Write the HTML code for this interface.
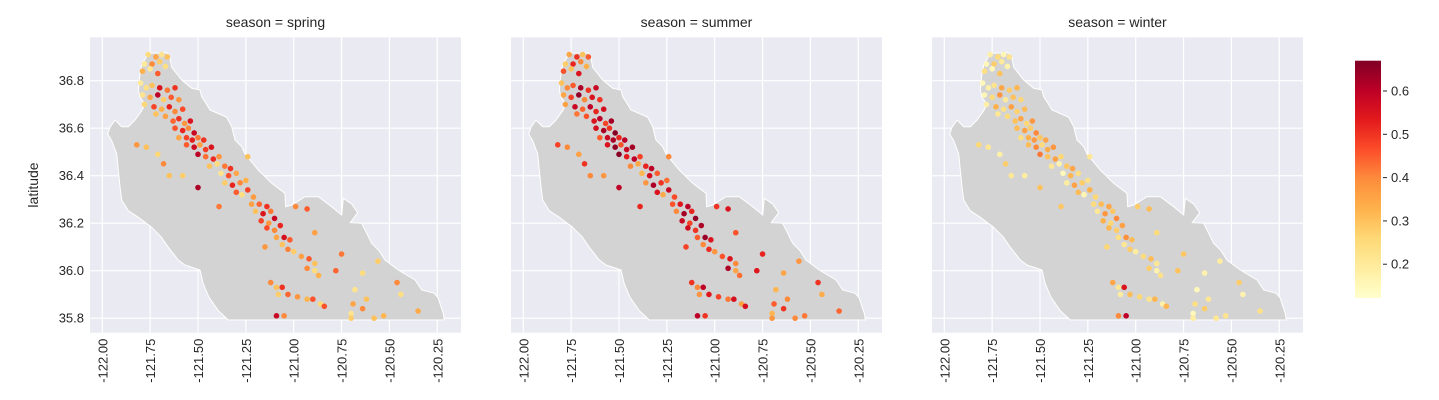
<!DOCTYPE html>
<html><head><meta charset="utf-8"><style>
body{margin:0;background:#fff;}
svg{display:block;font-family:"Liberation Sans",sans-serif;}
</style></head><body>
<svg id="chart" width="1439" height="400" viewBox="0 0 1439 400"></svg>
<script>
const seasons = ["spring","summer","winter"];
const lons = [-121.76,-121.72,-121.69,-121.66,-121.78,-121.74,-121.70,-121.67,-121.79,-121.75,-121.71,
-121.80,-121.77,-121.74,-121.70,-121.66,-121.62,-121.79,-121.75,-121.71,-121.68,-121.64,-121.60,-121.78,-121.73,-121.69,-121.65,-121.62,-121.58,-121.72,-121.67,
-121.63,-121.60,-121.57,-121.54,-121.62,-121.58,-121.55,-121.52,-121.60,-121.56,-121.53,-121.50,-121.47,-121.56,-121.52,-121.49,-121.46,-121.43,-121.50,-121.46,-121.42,-121.39,
-121.44,-121.40,-121.36,-121.33,-121.38,-121.34,-121.30,-121.36,-121.32,-121.28,-121.25,-121.30,-121.27,-121.24,-121.21,
-121.22,-121.18,-121.14,-121.20,-121.16,-121.12,-121.17,-121.13,-121.10,-121.14,-121.10,-121.07,-121.09,-121.05,-121.02,-121.06,-121.03,
-121.00,-120.96,-120.92,-120.89,-120.93,-120.89,-120.87,
-121.12,-121.09,-121.06,-121.08,-121.03,-120.98,-120.93,-120.90,-120.86,
-121.82,-121.77,-121.71,-121.68,-121.65,-121.58,-121.50,-121.39,-121.24,-120.99,-120.93,-120.89,-121.15,-120.75,-120.78,-120.64,-120.56,-120.68,-120.62,-120.69,-120.64,-120.70,-120.70,-120.58,-120.53,-120.46,-120.44,-120.35,-121.09,-121.05,-120.84];
const lats = [36.91,36.90,36.91,36.90,36.87,36.87,36.88,36.86,36.84,36.85,36.83,
36.79,36.77,36.78,36.77,36.76,36.77,36.74,36.73,36.74,36.72,36.73,36.72,36.70,36.69,36.68,36.69,36.67,36.68,36.66,36.65,
36.63,36.64,36.62,36.63,36.60,36.59,36.60,36.58,36.56,36.56,36.55,36.56,36.55,36.53,36.52,36.53,36.51,36.52,36.49,36.48,36.47,36.48,
36.44,36.45,36.44,36.43,36.41,36.40,36.41,36.37,36.36,36.37,36.38,36.33,36.32,36.34,36.31,
36.28,36.28,36.27,36.25,36.24,36.25,36.21,36.20,36.22,36.18,36.17,36.19,36.14,36.14,36.13,36.11,36.09,
36.08,36.06,36.05,36.03,36.01,36.00,35.98,
35.95,35.93,35.93,35.90,35.90,35.89,35.88,35.88,35.86,
36.53,36.52,36.49,36.45,36.40,36.40,36.35,36.27,36.48,36.27,36.26,36.16,36.10,36.07,36.00,35.99,36.04,35.92,35.88,35.86,35.84,35.82,35.80,35.80,35.81,35.95,35.90,35.83,35.81,35.81,35.85];
const springVals = [.25,.35,.22,.30,.20,.40,.28,.24,.33,.21,.45,
.20,.24,.30,.55,.42,.50,.22,.35,.60,.28,.45,.38,.26,.48,.33,.52,.40,.47,.30,.36,
.44,.50,.38,.55,.46,.52,.40,.58,.35,.48,.53,.42,.50,.45,.57,.36,.49,.55,.60,.43,.51,.38,
.30,.25,.42,.50,.22,.46,.35,.28,.52,.40,.33,.45,.24,.48,.37,
.36,.44,.50,.30,.55,.42,.48,.38,.58,.47,.40,.52,.35,.56,.45,.30,.41,
.28,.36,.45,.30,.40,.25,.33,
.40,.30,.50,.28,.44,.38,.32,.46,.26,
.38,.30,.26,.40,.30,.28,.62,.42,.30,.40,.45,.36,.38,.42,.44,.25,.28,.22,.30,.35,.40,.22,.28,.30,.32,.40,.24,.34,.58,.40,.46];
const summerVals = [.35,.50,.30,.45,.28,.52,.40,.33,.46,.30,.55,
.30,.40,.45,.62,.50,.58,.35,.48,.65,.40,.55,.50,.36,.58,.44,.60,.52,.56,.42,.46,
.55,.60,.48,.63,.56,.62,.50,.66,.45,.58,.62,.52,.60,.55,.65,.46,.58,.63,.66,.53,.60,.48,
.40,.35,.52,.60,.32,.56,.45,.38,.62,.50,.43,.55,.34,.58,.47,
.46,.54,.60,.40,.63,.52,.58,.48,.65,.57,.50,.62,.45,.64,.55,.40,.51,
.38,.46,.55,.40,.62,.35,.43,
.50,.40,.60,.38,.54,.48,.42,.56,.36,
.48,.40,.36,.50,.40,.38,.60,.52,.40,.50,.55,.46,.48,.52,.54,.35,.38,.32,.40,.45,.50,.32,.38,.40,.42,.50,.34,.44,.60,.50,.56];
const winterVals = [.18,.25,.16,.22,.15,.28,.20,.17,.24,.15,.30,
.15,.18,.22,.35,.28,.32,.16,.25,.38,.20,.30,.26,.18,.33,.23,.36,.27,.31,.21,.25,
.30,.35,.26,.38,.31,.36,.28,.40,.24,.33,.37,.29,.35,.31,.40,.25,.34,.38,.42,.30,.36,.26,
.21,.17,.29,.35,.15,.32,.24,.19,.36,.28,.23,.31,.16,.33,.26,
.25,.31,.35,.21,.38,.29,.33,.26,.40,.32,.28,.36,.24,.39,.31,.21,.28,
.19,.25,.31,.21,.28,.17,.23,
.35,.21,.55,.19,.31,.26,.22,.32,.18,
.26,.21,.18,.28,.21,.19,.30,.29,.21,.28,.31,.25,.26,.29,.30,.17,.19,.15,.21,.24,.28,.15,.19,.21,.22,.28,.17,.23,.40,.60,.32];
const xTicks = [-122.00,-121.75,-121.50,-121.25,-121.00,-120.75,-120.50,-120.25];
const yTicks = [36.8,36.6,36.4,36.2,36.0,35.8];
const cbTicks = [0.2,0.3,0.4,0.5,0.6];
const vmin = 0.122, vmax = 0.67;

// map outline (pixel geometry relative to panel, not data)
const outline = [[190,70],[245,68],[255,85],[260,112],[290,150],[320,175],[345,180],[350,200],[360,215],[375,240],[410,255],[425,262],[440,290],[450,330],[470,350],[480,372],[520,420],[560,460],[600,490],[602,530],[620,525],[660,500],[700,500],[740,530],[770,555],[775,505],[800,522],[818,548],[796,578],[830,580],[860,640],[882,662],[900,690],[940,720],[990,750],[1010,780],[1048,790],[1060,805],[1068,830],[1075,850],[1078,870],[430,870],[400,842],[372,802],[355,762],[345,720],[300,705],[280,690],[250,652],[228,620],[198,590],[160,562],[130,542],[110,510],[105,470],[100,420],[95,372],[80,332],[68,312],[75,292],[90,270],[110,290],[130,290],[150,270],[170,242],[180,222],[165,202],[160,180],[165,130],[170,105]];

const svg = document.getElementById('chart');
const NS = 'http://www.w3.org/2000/svg';
function mk(tag, attrs, parent){const e=document.createElementNS(NS,tag);for(const k in attrs)e.setAttribute(k,attrs[k]);(parent||svg).appendChild(e);return e;}
const stops=[[0,'#ffffcc'],[.125,'#ffeda0'],[.25,'#fed976'],[.375,'#feb24c'],[.5,'#fd8d3c'],[.625,'#fc4e2a'],[.75,'#e31a1c'],[.875,'#bd0026'],[1,'#800026']];
function hex(h){return [1,3,5].map(i=>parseInt(h.substr(i,2),16));}
function cmap(v){let t=(v-vmin)/(vmax-vmin);t=Math.max(0,Math.min(1,t));for(let i=1;i<stops.length;i++){if(t<=stops[i][0]){const a=hex(stops[i-1][1]),b=hex(stops[i][1]);const f=(t-stops[i-1][0])/(stops[i][0]-stops[i-1][0]);return 'rgb('+a.map((c,j)=>Math.round(c+(b[j]-c)*f)).join(',')+')';}}return stops[8][1];}

const lefts=[90,511,932], plotTop=37.3, W=371, H=295.4;
const valsBy=[springVals,summerVals,winterVals];
function xScale(p,lon){return lefts[p]+12.3+(lon+122)*191.4;}
function yScale(lat){return 80.7+(36.8-lat)*237.5;}

seasons.forEach((s,p)=>{
  const g=mk('g',{});
  
  
  const bg=mk('rect',{x:lefts[p],y:plotTop,width:W,height:H,fill:'#eaeaf2'},g);
  
  
  xTicks.forEach(t=>{const x=xScale(p,t);const l=mk('line',{x1:x,x2:x,y1:plotTop,y2:plotTop+H,stroke:'#fff','stroke-width':1.2},g);
    
    const tx=mk('text',{x:0,y:0,transform:`translate(${x+5},${plotTop+H+6}) rotate(-90)`,'text-anchor':'end','font-size':13,fill:'#262626'},g);
    tx.textContent=t.toFixed(2);});
  yTicks.forEach(t=>{const y=yScale(t);const l=mk('line',{x1:lefts[p],x2:lefts[p]+W,y1:y,y2:y,stroke:'#fff','stroke-width':1.2},g);
    
    if(p===0){const tx=mk('text',{x:lefts[p]-6,y:y+4.5,'text-anchor':'end','font-size':13,fill:'#262626'},g);
      tx.textContent=t.toFixed(1);}});
  const pts=outline.map(([zx,zy])=>[(lefts[p]-5+zx/3).toFixed(1),(30+zy/3).toFixed(1)].join(',')).join(' ');
  const poly=mk('polygon',{points:pts,fill:'#d3d3d3',stroke:'#fff','stroke-width':1},g);
  
  
  const vals=valsBy[p];
  const n=Math.min(lons.length,lats.length,vals.length);
  for(let i=0;i<n;i++){
    const c=mk('circle',{cx:xScale(p,lons[i]),cy:yScale(lats[i]),r:2.8,fill:cmap(vals[i])},g);
    
    
  }
  const ti=mk('text',{x:lefts[p]+W/2,y:27,'text-anchor':'middle','font-size':14,fill:'#262626'},g);
  ti.textContent='season = '+s;
  
  
});
const yl=mk('text',{x:0,y:0,transform:'translate(38,185) rotate(-90)','text-anchor':'middle','font-size':14,fill:'#262626'});
yl.textContent='latitude';



// colorbar
const defs=mk('defs',{});
const lg=mk('linearGradient',{id:'cbg',x1:0,y1:1,x2:0,y2:0},defs);
stops.forEach(([o,c])=>mk('stop',{offset:o,'stop-color':c},lg));
const cbTop=60.7, cbBot=298, cbX=1355, cbW=26;
const cb=mk('rect',{x:cbX,y:cbTop,width:cbW,height:cbBot-cbTop,fill:'url(#cbg)'});


function cbY(v){return cbBot-(v-vmin)/(vmax-vmin)*(cbBot-cbTop);}
cbTicks.forEach(t=>{const y=cbY(t);
  const l=mk('line',{x1:cbX+cbW+2,x2:cbX+cbW+6,y1:y,y2:y,stroke:'#262626','stroke-width':1});
  
  const tx=mk('text',{x:cbX+cbW+10,y:y+4.5,'font-size':13,fill:'#262626'});
  tx.textContent=t.toFixed(1);});
</script>
</body></html>
